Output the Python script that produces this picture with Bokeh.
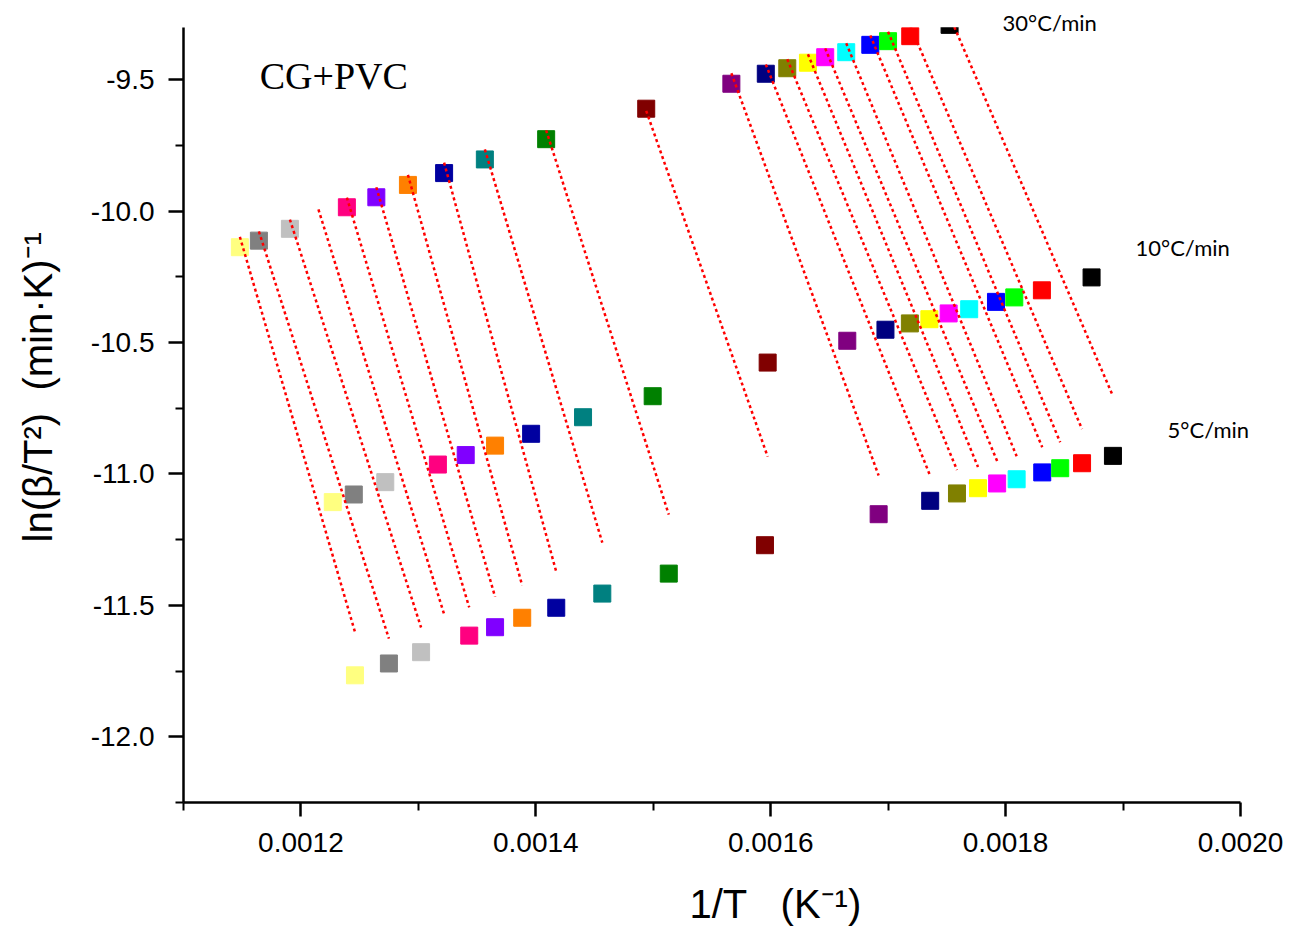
import numpy as np
from bokeh.plotting import figure
from bokeh.models import FixedTicker, PrintfTickFormatter, Label, Range1d
from bokeh.embed import file_html
from bokeh.resources import INLINE

# Origin default colour list (one per conversion level), left to right
colors = ["#FFFF80", "#808080", "#C0C0C0", "#FFFFFF", "#FF0080", "#8000FF", "#FF8000",
          "#0000A0", "#008080", "#008000", "#800000", "#800080", "#000080", "#808000",
          "#FFFF00", "#FF00FF", "#00FFFF", "#0000FF", "#00FF00", "#FF0000", "#000000"]

# 30 C/min
x30 = [0.0011480, 0.0011642, 0.0011906, 0.0012149, 0.0012391, 0.0012642, 0.0012911,
       0.0013219, 0.0013566, 0.0014088, 0.0014940, 0.0015665, 0.0015958, 0.0016141,
       0.0016317, 0.0016464, 0.0016643, 0.0016848, 0.0016999, 0.0017188, 0.0017523]
y30 = [-10.137, -10.112, -10.067, -10.030, -9.985, -9.947, -9.900,
       -9.855, -9.803, -9.726, -9.610, -9.515, -9.477, -9.456,
       -9.435, -9.414, -9.395, -9.367, -9.353, -9.334, -9.291]
# 10 C/min
x10 = [0.0012271, 0.0012450, 0.0012718, 0.0012942, 0.0013166, 0.0013403, 0.0013653,
       0.0013960, 0.0014402, 0.0014995, 0.0015974, 0.0016652, 0.0016977, 0.0017185,
       0.0017351, 0.0017515, 0.0017690, 0.0017918, 0.0018074, 0.0018309, 0.0018732]
y10 = [-11.107, -11.078, -11.031, -10.995, -10.964, -10.928, -10.892,
       -10.847, -10.784, -10.704, -10.576, -10.493, -10.451, -10.427,
       -10.411, -10.389, -10.373, -10.345, -10.328, -10.301, -10.252]
# 5 C/min
x5 = [0.0012460, 0.0012749, 0.0013023, 0.0013225, 0.0013433, 0.0013653, 0.0013884,
      0.0014174, 0.0014566, 0.0015132, 0.0015951, 0.0016919, 0.0017358, 0.0017586,
      0.0017765, 0.0017928, 0.0018094, 0.0018312, 0.0018465, 0.0018651, 0.0018914]
y5 = [-11.766, -11.721, -11.678, -11.645, -11.615, -11.583, -11.547,
      -11.509, -11.455, -11.379, -11.271, -11.153, -11.102, -11.074,
      -11.054, -11.036, -11.020, -10.994, -10.978, -10.959, -10.931]

rate_labels = ["30\u00b0C/min", "10\u00b0C/min", "5\u00b0C/min"]
rate_label_x = [0.0017974, 0.0019106, 0.0019379]
rate_label_y = [-9.282, -10.138, -10.831]
sample_label = "CG+PVC"
sample_label_xy = (0.001228, -9.484)

x_bounds = (0.0011, 0.0020)
y_bounds = (-12.25, -9.3)
x_major = [0.0012, 0.0014, 0.0016, 0.0018, 0.0020]
x_minor = [0.0011, 0.0013, 0.0015, 0.0017, 0.0019]
y_major = [-12.0, -11.5, -11.0, -10.5, -10.0, -9.5]
y_minor = [-12.25, -11.75, -11.25, -10.75, -10.25, -9.75]

NB = "\u00a0"
x_title = NB * 6 + "1/T" + NB * 2 + " (K\u207b\u00b9)"
y_title = NB * 3 + "ln(\u03b2/T\u00b2)" + NB + " (min\u00b7K)\u207b\u00b9"

# frame is a bit larger than the axes so the rate labels are not cut off
x_end = 0.0020511
y_end = -9.2173

p = figure(width=1301, height=932, output_backend="svg", toolbar_location=None,
           x_range=Range1d(x_bounds[0], x_end), y_range=Range1d(y_bounds[0], y_end),
           min_border_left=183, min_border_right=1, min_border_top=5,
           min_border_bottom=130)
p.background_fill_color = "white"
p.border_fill_color = "white"
p.outline_line_color = None
p.xgrid.visible = False
p.ygrid.visible = False

# markers
for i, c in enumerate(colors):
    xs = [x30[i], x10[i], x5[i]]
    ys = [y30[i], y10[i], y5[i]]
    p.scatter(xs, ys, marker="square", size=17, fill_color=c, line_color=c, line_width=1)

# linear fit lines (iso-conversional), from 30 C/min point to 5 C/min point
for i in range(len(colors)):
    xs = np.array([x30[i], x10[i], x5[i]])
    ys = np.array([y30[i], y10[i], y5[i]])
    k, b = np.polyfit(xs, ys, 1)
    xl = np.array([xs.min(), xs.max()])
    p.line(xl, k * xl + b, line_color="#FF0000", line_dash="3 3", line_width=2.5)

# the original plot area stops at the top of the y axis: hide what lies above it
p.quad(left=[x_bounds[0]], right=[x_end], bottom=[y_bounds[1]], top=[y_end],
       fill_color="white", line_color=None)

for t, xx, yy in zip(rate_labels, rate_label_x, rate_label_y):
    p.add_layout(Label(x=xx, y=yy, text=t, text_font="Lato", text_font_size="22px",
                       text_baseline="middle", text_align="left", text_color="black"))
p.add_layout(Label(x=sample_label_xy[0], y=sample_label_xy[1], text=sample_label,
                   text_font="Liberation Serif", text_font_size="38px",
                   text_baseline="middle", text_align="center", text_color="black"))

for ax in (p.xaxis[0], p.yaxis[0]):
    ax.axis_line_width = 2.5
    ax.axis_line_color = "black"
    ax.major_tick_line_width = 2.5
    ax.minor_tick_line_width = 2
    ax.major_tick_in = 0
    ax.minor_tick_in = 0
    ax.major_label_text_font = "Liberation Sans"
    ax.major_label_text_font_size = "28px"
    ax.major_label_text_color = "black"
    ax.axis_label_text_font = "Liberation Sans"
    ax.axis_label_text_font_size = "40px"
    ax.axis_label_text_font_style = "normal"
    ax.axis_label_text_color = "black"

xa = p.xaxis[0]
xa.bounds = x_bounds
xa.ticker = FixedTicker(ticks=x_major, minor_ticks=x_minor)
xa.formatter = PrintfTickFormatter(format="%.4f")
xa.major_tick_out = 14
xa.minor_tick_out = 8
xa.major_label_standoff = 16
xa.axis_label = x_title
xa.axis_label_standoff = 27

ya = p.yaxis[0]
ya.bounds = y_bounds
ya.ticker = FixedTicker(ticks=y_major, minor_ticks=y_minor)
ya.formatter = PrintfTickFormatter(format="%.1f")
ya.major_tick_out = 15
ya.minor_tick_out = 8
ya.major_label_standoff = 14
ya.axis_label = y_title
ya.axis_label_standoff = 28

open("out.html", "w").write(file_html(p, INLINE))
